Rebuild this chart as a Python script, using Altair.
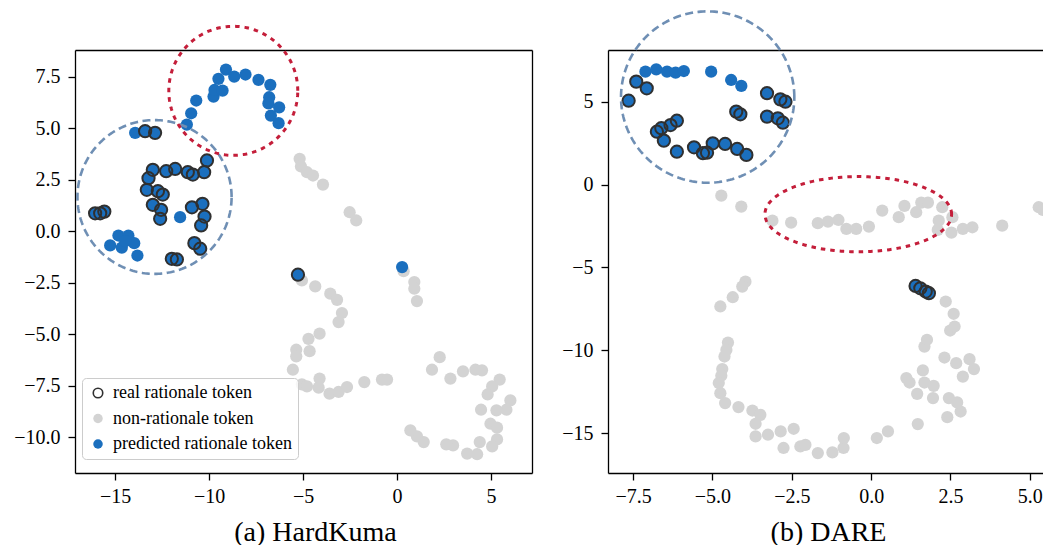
import altair as alt
import numpy as np
import pandas as pd

CATEGORIES = ["real rationale token", "non-rationale token", "predicted rationale token"]
FILLS = ["transparent", "#d3d3d3", "#1b6fbe"]
STROKES = ["#303030", "transparent", "transparent"]

# ---------------- (a) HardKuma ----------------
A_NON_X = [-5.18, -5.11, -4.79, -4.47, -3.94, -2.52, -2.17, -5.06, -4.35, -3.55, -3.19, -2.93,
           -3.11, -4.12, -4.71, -4.65, -5.36, -5.36, -5.54, -5.06, -4.79, -4.12, -4.17, -3.59,
           -3.11, -2.66, -1.74, -0.80, -0.53, 0.92, 0.92, 1.06, 2.27, 1.86, 2.84, 3.51, 4.17,
           4.52, 5.46, 5.06, 4.82, 6.03, 5.82, 5.29, 4.47, 4.97, 5.32, 5.32, 5.06, 4.40, 4.26,
           3.73, 2.98, 2.62, 1.42, 1.06, 0.71, 0.35]
A_NON_Y = [3.51, 3.14, 2.86, 2.70, 2.26, 0.92, 0.52, -2.39, -2.68, -3.03, -3.33, -3.97,
           -4.41, -4.97, -5.22, -5.82, -5.75, -6.07, -6.72, -7.43, -7.53, -7.15, -7.59, -7.88,
           -7.80, -7.56, -7.32, -7.20, -7.20, -2.47, -2.79, -3.39, -6.11, -6.72, -7.15, -6.80, -6.72,
           -6.75, -7.20, -7.53, -7.92, -8.21, -8.66, -8.69, -8.66, -9.34, -9.53, -10.10, -10.44, -10.23, -10.82,
           -10.79, -10.39, -10.34, -10.23, -9.95, -9.66, -1.94]
A_PRED_X = [-11.18, -10.95, -10.68, -9.76, -9.71, -9.28, -9.50, -9.10, -8.66, -8.06, -7.37, -6.74,
            -6.80, -6.84, -6.27, -6.71, -6.30, -13.93, -15.26, -14.82, -14.29, -14.64, -13.98,
            -13.81, -14.46, -11.54, 0.27]
A_PRED_Y = [5.17, 5.72, 6.34, 6.53, 6.85, 6.82, 7.39, 7.84, 7.50, 7.60, 7.34, 7.10,
            6.50, 6.20, 6.01, 5.61, 5.24, 4.77, -0.69, -0.21, -0.21, -0.80, -0.58,
            -1.18, -0.48, 0.68, -1.74]
A_REAL_X = [-13.40, -12.87, -16.06, -15.79, -15.57, -12.99, -13.22, -13.31, -12.72, -12.46, -12.99,
            -12.55, -12.60, -12.28, -11.80, -11.13, -10.86, -10.26, -10.11, -10.91, -10.35, -10.24,
            -10.42, -10.78, -10.47, -11.98, -11.71, -5.27]
A_REAL_Y = [4.85, 4.77, 0.87, 0.87, 0.95, 2.98, 2.57, 2.01, 1.94, 1.78, 1.28,
            1.04, 0.60, 2.91, 3.02, 2.86, 2.75, 2.86, 3.43, 1.16, 1.33, 0.71,
            0.28, -0.58, -0.85, -1.34, -1.37, -2.11]
# highlight ellipses: centre x, centre y, radius x, radius y (data units)
A_BLUE_ELLIPSE = [-12.90, 1.66, 4.10, 3.73]
A_RED_ELLIPSE = [-8.71, 6.81, 3.43, 3.13]
A_X_DOMAIN = [-17.13, 7.18]
A_Y_DOMAIN = [-11.73, 8.79]
A_X_TICKS = [-15, -10, -5, 0, 5]
A_Y_TICKS = [-10.0, -7.5, -5.0, -2.5, 0.0, 2.5, 5.0, 7.5]

# ---------------- (b) DARE ----------------
B_NON_X = [-4.72, -4.09, -3.11, -2.52, -1.68, -1.36, -1.03, -0.78, -0.47, -0.07, 0.35, 0.87, 1.05,
           1.42, 1.58, 1.79, 2.24, 2.13, 2.56, 2.10, 2.53, 2.89, 3.19, 4.13, 5.28, 5.41,
           -3.96, -4.06, -4.36, -4.75, -4.51, -4.56, -4.62, -4.69, -4.72, -4.80, -4.75, -4.60,
           -4.18, -3.74, -3.49, -3.64, -3.64, -3.25, -2.85, -2.44, -2.76, -2.23, -2.07, -1.68,
           -1.22, -0.87, -0.86, 0.18, 0.53, 1.47, 2.40, 2.82, 2.71, 2.45, 1.95, 1.45, 1.97,
           1.68, 1.21, 1.11, 1.63, 2.31, 2.68, 3.10, 3.24, 2.89, 1.68, 1.76, 2.49, 2.63, 2.60, 2.35]
B_NON_Y = [-0.67, -1.33, -2.18, -2.30, -2.33, -2.24, -2.14, -2.68, -2.68, -2.54, -1.57, -1.97, -1.29,
           -1.67, -1.09, -1.09, -1.37, -2.18, -1.97, -2.74, -2.90, -2.68, -2.58, -2.48, -1.37, -1.53,
           -5.86, -6.16, -6.80, -7.36, -9.54, -9.98, -10.38, -11.14, -11.54, -11.98, -12.59, -13.19,
           -13.43, -13.64, -13.90, -14.44, -15.20, -15.10, -14.90, -14.74, -15.90, -15.81, -15.71, -16.21,
           -16.17, -15.90, -15.30, -15.30, -14.90, -14.46, -14.04, -13.70, -13.15, -12.89, -12.89, -12.63, -12.15,
           -11.95, -11.95, -11.68, -11.22, -10.44, -10.78, -10.54, -11.14, -11.59, -9.78, -9.37, -8.81, -8.57, -7.80, -7.06]
B_PRED_X = [-7.11, -6.77, -6.43, -6.16, -5.90, -5.04, -4.41, -4.09]
B_PRED_Y = [6.81, 6.95, 6.81, 6.75, 6.85, 6.81, 6.31, 5.95]
B_REAL_X = [-7.64, -7.40, -7.07, -6.75, -6.61, -6.53, -6.32, -6.12, -6.12, -5.58, -5.30, -5.17,
            -4.99, -4.60, -4.22, -3.93, -4.25, -4.12, -3.28, -2.86, -2.70, -3.28, -2.94, -2.78,
            1.40, 1.55, 1.72, 1.82]
B_REAL_Y = [5.06, 6.21, 5.81, 3.19, 3.40, 2.65, 3.59, 3.85, 1.98, 2.25, 1.89, 1.92,
            2.49, 2.45, 2.15, 1.79, 4.40, 4.24, 5.51, 5.14, 5.00, 4.10, 4.00, 3.73,
            -6.12, -6.26, -6.46, -6.56]
B_BLUE_ELLIPSE = [-5.15, 5.28, 2.73, 5.17]
B_RED_ELLIPSE = [-0.405, -1.79, 2.94, 2.27]
B_X_DOMAIN = [-8.29, 5.667]
B_Y_DOMAIN = [-17.41, 8.12]
B_X_TICKS = [-7.5, -5.0, -2.5, 0.0, 2.5, 5.0]
B_Y_TICKS = [-15, -10, -5, 0, 5]

FONT = "Liberation Serif"


def ellipse_frame(params):
    cx, cy, rx, ry = params
    t = np.linspace(0, 2 * np.pi, 241)
    return pd.DataFrame({"ex": cx + rx * np.cos(t), "ey": cy + ry * np.sin(t),
                         "k": np.arange(len(t))})


def panel(non_x, non_y, pred_x, pred_y, real_x, real_y, blue_e, red_e,
          xdom, ydom, xticks, yticks, xfmt, yfmt, width, caption, cap_x,
          show_legend, right_frame):
    rows = []
    for x, y in zip(non_x, non_y):
        rows.append({"x": x, "y": y, "cat": CATEGORIES[1]})
    for x, y in zip(pred_x + real_x, pred_y + real_y):
        rows.append({"x": x, "y": y, "cat": CATEGORIES[2]})
    for x, y in zip(real_x, real_y):
        rows.append({"x": x, "y": y, "cat": CATEGORIES[0]})
    df = pd.DataFrame(rows)

    xs = alt.Scale(domain=xdom, nice=False, zero=False)
    ys = alt.Scale(domain=ydom, nice=False, zero=False)

    if show_legend:
        leg = alt.Legend(orient="none", legendX=7, legendY=328, title=None,
                         padding=6, rowPadding=7.5, labelFont=FONT, labelFontSize=18,
                         labelColor="black", labelOffset=6, labelLimit=400, symbolSize=90,
                         symbolType="circle", symbolStrokeWidth=1.6, symbolOffset=1,
                         strokeColor="#cccccc", fillColor="rgba(255,255,255,0.8)",
                         cornerRadius=4)
    else:
        leg = None

    pts = alt.Chart(df).mark_point(filled=True, size=150, opacity=1, strokeWidth=2).encode(
        x=alt.X("x:Q", scale=xs,
                axis=alt.Axis(orient="bottom", values=xticks, format=xfmt, title=caption,
                              titleX=cap_x, titleY=67, titleAlign="center",
                              titleBaseline="alphabetic", labelFlush=False, labelOverlap=False)),
        y=alt.Y("y:Q", scale=ys,
                axis=alt.Axis(orient="left", values=yticks, format=yfmt, title=None,
                              labelFlush=False, labelOverlap=False)),
        fill=alt.Fill("cat:N", scale=alt.Scale(domain=CATEGORIES, range=FILLS), legend=leg),
        stroke=alt.Stroke("cat:N", scale=alt.Scale(domain=CATEGORIES, range=STROKES), legend=leg),
    )

    y_axis2 = alt.Axis(orient="right", labels=False, ticks=False, grid=False, title=None,
                       domain=right_frame)

    blue = alt.Chart(ellipse_frame(blue_e)).mark_line(
        clip=False, color="#6f8fb4", strokeWidth=2.6, strokeDash=[8, 4.5], strokeJoin="round"
    ).encode(
        x=alt.X("ex:Q", scale=xs,
                axis=alt.Axis(orient="top", labels=False, ticks=False, grid=False, title=None)),
        y=alt.Y("ey:Q", scale=ys, axis=y_axis2),
        order="k:Q",
    )
    red = alt.Chart(ellipse_frame(red_e)).mark_line(
        clip=False, color="#c41e3a", strokeWidth=3, strokeDash=[4.5, 5], strokeJoin="round"
    ).encode(
        x=alt.X("ex:Q", scale=xs, axis=None),
        y=alt.Y("ey:Q", scale=ys, axis=None),
        order="k:Q",
    )
    return alt.layer(pts, blue, red).properties(width=width, height=423)


left = panel(A_NON_X, A_NON_Y, A_PRED_X, A_PRED_Y, A_REAL_X, A_REAL_Y,
             A_BLUE_ELLIPSE, A_RED_ELLIPSE, A_X_DOMAIN, A_Y_DOMAIN, A_X_TICKS, A_Y_TICKS,
             "d", ".1f", 457, "(a) HardKuma", 240, True, True)
right = panel(B_NON_X, B_NON_Y, B_PRED_X, B_PRED_Y, B_REAL_X, B_REAL_Y,
              B_BLUE_ELLIPSE, B_RED_ELLIPSE, B_X_DOMAIN, B_Y_DOMAIN, B_X_TICKS, B_Y_TICKS,
              ".1f", "d", 443, "(b) DARE", 220, False, False)

chart = alt.hconcat(left, right, spacing=76, bounds="flush").resolve_scale(
    x="independent", y="independent", fill="independent", stroke="independent"
).resolve_legend(fill="independent", stroke="independent").properties(
    padding={"left": 5, "top": 2, "right": -10, "bottom": 0}
).configure(font=FONT).configure_view(strokeWidth=0).configure_axis(
    labelFont=FONT, labelFontSize=20, labelColor="black", tickColor="black", tickSize=7,
    tickWidth=1.3, domainColor="black", domainWidth=1.3, grid=False,
    titleFont=FONT, titleFontSize=28, titleFontWeight="normal", titleColor="black"
).configure_axisX(labelPadding=6).configure_axisY(labelPadding=8)

chart.save("out.html", embed_options={"renderer": "svg", "actions": False})
